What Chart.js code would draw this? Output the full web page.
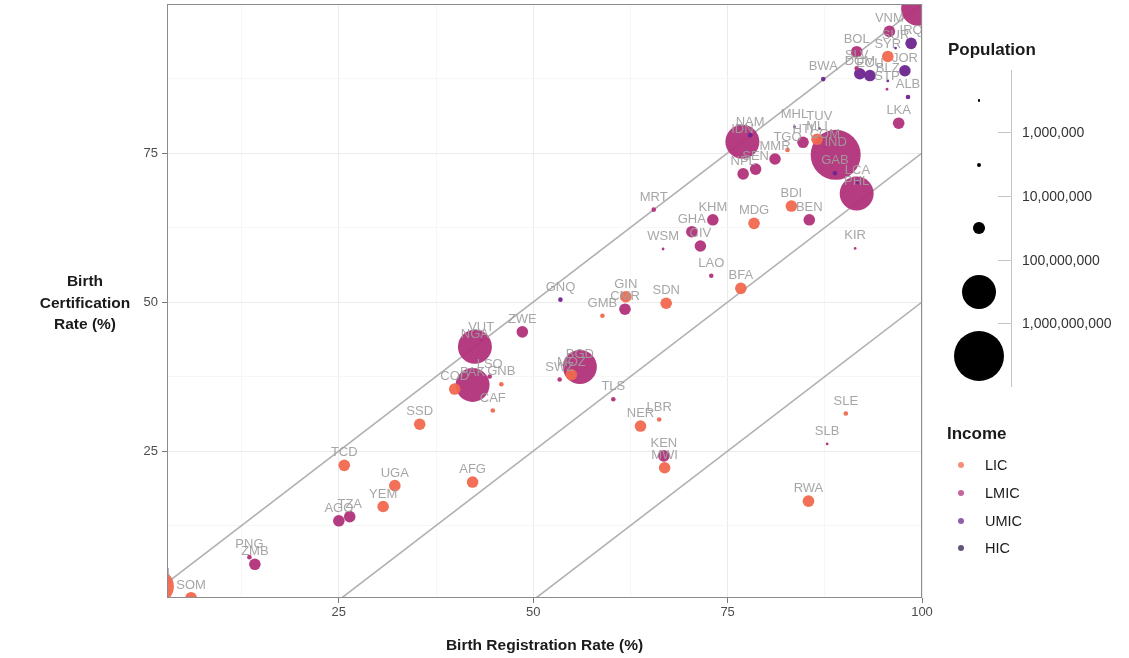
<!DOCTYPE html>
<html>
<head>
<meta charset="utf-8">
<script src="https://cdn.jsdelivr.net/npm/chart.js@4.4.1/dist/chart.umd.min.js"></script>
<style>
  html, body { margin: 0; padding: 0; background: #fff; }
  #wrap { position: relative; width: 1129px; height: 658px; font-family: "Liberation Sans", Arial, sans-serif; }
  #chart { position: absolute; left: 0; top: 0; }
  .axis-title { position: absolute; font-weight: bold; color: #1a1a1a; font-size: 15.5px; }
  .leg-title { position: absolute; font-weight: bold; color: #1a1a1a; font-size: 17px; line-height: 20px; }
  .leg-label { position: absolute; color: #333; font-size: 14px; line-height: 18px; }
  .dot { position: absolute; border-radius: 50%; }
</style>
</head>
<body>
<div id="wrap">
  <canvas id="chart" width="1129" height="658"></canvas>
  <div class="axis-title" style="left:167px;width:755px;top:636px;text-align:center;line-height:18px;">Birth Registration Rate (%)</div>
  <div class="axis-title" style="left:20px;width:130px;top:270px;text-align:center;line-height:21.5px;">Birth<br>Certification<br>Rate (%)</div>
  <div id="legend"></div>
</div>
<script>
// one row per country: iso code, registration rate, certification rate, income group, population (millions)
const isoCodes = ["IND", "IDN", "PAK", "NGA", "BGD", "ETH", "PHL", "EGY", "VNM", "COD",
  "MMR", "TZA", "KEN", "UGA", "SDN", "IRQ", "AFG", "AGO", "MOZ", "GHA",
  "NPL", "YEM", "MDG", "CIV", "CMR", "NER", "LKA", "BFA", "MLI", "MWI",
  "ZMB", "SYR", "ECU", "KHM", "SEN", "TCD", "SOM", "ZWE", "GIN", "RWA",
  "BEN", "BDI", "SSD", "BOL", "HTI", "DOM", "JOR", "TGO", "PNG", "SLE",
  "LAO", "SLV", "LBR", "CAF", "MRT", "ALB", "NAM", "BWA", "GMB", "LSO",
  "GAB", "GNB", "GNQ", "TLS", "SWZ", "COM", "SLB", "SUR", "BLZ", "VUT",
  "WSM", "STP", "LCA", "KIR", "MHL", "TUV"];
const regRate = [88.9, 76.9, 42.2, 42.5, 56.0, 1.6, 91.6, 99.5, 95.8, 39.9,
  81.1, 26.4, 66.8, 32.2, 67.1, 98.6, 42.2, 25.0, 54.9, 70.4,
  77.0, 30.7, 78.4, 71.5, 61.8, 63.8, 97.0, 76.7, 86.5, 66.9,
  14.2, 95.6, 93.3, 73.1, 78.6, 25.7, 6.0, 48.6, 61.9, 85.4,
  85.5, 83.2, 35.4, 91.6, 84.7, 92.0, 97.8, 82.7, 13.5, 90.2,
  72.9, 91.6, 66.2, 44.8, 65.5, 98.2, 77.9, 87.3, 58.9, 44.4,
  88.8, 45.9, 53.5, 60.3, 53.4, 87.5, 87.8, 96.6, 95.6, 43.3,
  66.7, 95.5, 91.7, 91.4, 83.6, 86.8];
const certRate = [74.7, 76.9, 36.1, 42.5, 39.1, 2.3, 68.2, 99.2, 95.4, 35.4,
  74.0, 14.0, 24.2, 19.2, 49.8, 93.4, 19.8, 13.3, 37.8, 61.8,
  71.5, 15.7, 63.2, 59.4, 48.8, 29.2, 80.0, 52.3, 77.3, 22.2,
  6.0, 91.2, 88.0, 63.8, 72.3, 22.6, 0.4, 45.0, 50.9, 16.6,
  63.8, 66.1, 29.5, 92.0, 76.8, 88.3, 88.8, 75.5, 7.2, 31.3,
  54.4, 89.2, 30.3, 31.8, 65.5, 84.4, 78.0, 87.4, 47.7, 37.5,
  71.6, 36.2, 50.4, 33.7, 37.0, 76.0, 26.2, 92.6, 87.1, 43.6,
  58.9, 85.7, 70.0, 59.0, 79.4, 79.1];
const incomeGroup = ["LMIC", "LMIC", "LMIC", "LMIC", "LMIC", "LIC", "LMIC", "LMIC", "LMIC", "LIC",
  "LMIC", "LMIC", "LMIC", "LIC", "LIC", "UMIC", "LIC", "LMIC", "LIC", "LMIC",
  "LMIC", "LIC", "LIC", "LMIC", "LMIC", "LIC", "LMIC", "LIC", "LIC", "LIC",
  "LMIC", "LIC", "UMIC", "LMIC", "LMIC", "LIC", "LIC", "LMIC", "LIC", "LIC",
  "LMIC", "LIC", "LIC", "LMIC", "LMIC", "UMIC", "UMIC", "LIC", "LMIC", "LIC",
  "LMIC", "LMIC", "LIC", "LIC", "LMIC", "UMIC", "UMIC", "UMIC", "LIC", "LMIC",
  "UMIC", "LIC", "UMIC", "LMIC", "LMIC", "LMIC", "LMIC", "UMIC", "UMIC", "LMIC",
  "LMIC", "LMIC", "UMIC", "LMIC", "UMIC", "UMIC"];
const populationM = [1353, 268, 212, 196, 161, 109, 107, 101, 95, 84,
  54, 56, 51, 43, 42, 38, 37, 31, 30, 29,
  28, 28, 26, 25, 25, 22, 21, 20, 19, 18,
  17, 17, 17, 16, 16, 15, 15, 14, 12, 12,
  11, 11, 11, 11, 11, 11, 10, 8, 8.6, 7.6,
  7, 6.4, 4.8, 4.7, 4.4, 2.9, 2.5, 2.3, 2.2, 2.1,
  2.1, 1.9, 1.3, 1.3, 1.1, 0.8, 0.65, 0.58, 0.38, 0.29,
  0.2, 0.21, 0.18, 0.12, 0.06, 0.01];

const incomeLevels = ["LIC", "LMIC", "UMIC", "HIC"];
const popBreakLabels = ["1,000,000", "10,000,000", "100,000,000", "1,000,000,000"];
const popBreaksM = [1, 10, 100, 1000];
const diagonalOffsets = [0, 25, 50];
const xTickValues = [12.5, 25, 37.5, 50, 62.5, 75, 87.5, 100];
const yTickValues = [12.5, 25, 37.5, 50, 62.5, 75, 87.5];

// styling
const incomeColors = ["rgba(241,104,79,0.95)", "rgba(178,49,123,0.95)", "rgba(110,37,144,0.95)", "rgba(46,26,76,0.95)"];
const legendDotColors = ["rgba(241,104,79,0.75)", "rgba(178,49,123,0.75)", "rgba(110,37,144,0.75)", "rgba(46,26,76,0.75)"];
const binRadius = [1.4, 2.3, 5.8, 17, 25];
const labelNudge = 2.1;

function radiusFor(pop) {
  let bin = 0;
  while (bin < popBreaksM.length && pop >= popBreaksM[bin]) bin++;
  return binRadius[bin];
}

// draw big bubbles first so the small ones stay visible
const order = isoCodes.map((_, i) => i).sort((a, b) => populationM[b] - populationM[a]);
const points = order.map((i) => ({ x: regRate[i], y: certRate[i], idx: i }));

const labelPlugin = {
  id: "isoLabels",
  afterDatasetsDraw(chart) {
    const { ctx, chartArea, scales } = chart;
    ctx.save();
    ctx.beginPath();
    ctx.rect(chartArea.left, chartArea.top, chartArea.right - chartArea.left, chartArea.bottom - chartArea.top);
    ctx.clip();
    ctx.font = '13px "Liberation Sans", Arial, sans-serif';
    ctx.fillStyle = "rgba(158,158,158,0.92)";
    ctx.textAlign = "center";
    ctx.textBaseline = "middle";
    isoCodes.forEach((code, i) => {
      const px = scales.x.getPixelForValue(regRate[i]);
      const py = scales.y.getPixelForValue(certRate[i] + labelNudge);
      ctx.fillText(code, px, py);
    });
    ctx.restore();
  }
};

const borderPlugin = {
  id: "panelBorder",
  afterDraw(chart) {
    const { ctx, chartArea } = chart;
    ctx.save();
    ctx.strokeStyle = "#8c8c8c";
    ctx.lineWidth = 1;
    ctx.strokeRect(chartArea.left + 0.5, chartArea.top + 0.5, chartArea.right - chartArea.left - 1, chartArea.bottom - chartArea.top - 1);
    ctx.restore();
  }
};

const gridFor = {
  color: (c) => (c.tick && c.tick.value % 25 === 0 ? "#EBEBEB" : "#F6F6F6"),
  tickColor: (c) => (c.tick && c.tick.value % 25 === 0 ? "#7a7a7a" : "rgba(0,0,0,0)"),
  tickLength: 5,
  lineWidth: 1
};

const lineSets = diagonalOffsets.map((off) => ({
  type: "line",
  data: [{ x: off, y: 0 }, { x: 100, y: 100 - off }],
  borderColor: "#b0b0b0",
  borderWidth: 1.6,
  pointRadius: 0,
  clip: 0,
  order: 2
}));

new Chart(document.getElementById("chart"), {
  type: "scatter",
  data: {
    datasets: [
      {
        data: points,
        pointRadius: (c) => radiusFor(populationM[c.raw.idx]),
        backgroundColor: (c) => incomeColors[incomeLevels.indexOf(incomeGroup[c.raw.idx])],
        borderWidth: 0,
        clip: 0,
        order: 1
      },
      ...lineSets
    ]
  },
  options: {
    responsive: false,
    animation: false,
    events: [],
    layout: { autoPadding: false, padding: { left: 0, top: 4, right: 207, bottom: 0 } },
    plugins: { legend: { display: false }, tooltip: { enabled: false } },
    scales: {
      x: {
        type: "linear",
        min: 2.9,
        max: 100,
        afterBuildTicks: (scale) => { scale.ticks = xTickValues.map((v) => ({ value: v })); },
        afterFit: (scale) => {
          scale.height = 60;
          scale.paddingLeft = 0;
          scale.paddingRight = 0;
        },
        grid: gridFor,
        border: { display: false },
        ticks: {
          autoSkip: false,
          maxRotation: 0,
          padding: 2,
          color: "#4D4D4D",
          font: { family: "Liberation Sans", size: 13 },
          callback: (v) => (v % 25 === 0 ? v : "")
        }
      },
      y: {
        type: "linear",
        min: 0.35,
        max: 100,
        afterBuildTicks: (scale) => { scale.ticks = yTickValues.map((v) => ({ value: v })); },
        afterFit: (scale) => {
          scale.width = 167;
          scale.paddingTop = 0;
          scale.paddingBottom = 0;
        },
        grid: gridFor,
        border: { display: false },
        ticks: {
          autoSkip: false,
          padding: 4,
          color: "#4D4D4D",
          font: { family: "Liberation Sans", size: 13 },
          callback: (v) => (v % 25 === 0 ? v : "")
        }
      }
    }
  },
  plugins: [labelPlugin, borderPlugin]
});

// legends (html)
const legend = document.getElementById("legend");
function add(cls, style, text) {
  const d = document.createElement("div");
  d.className = cls;
  d.style.cssText = style;
  if (text) d.textContent = text;
  legend.appendChild(d);
}
add("leg-title", "left:948px;top:40px;", "Population");
add("", "position:absolute;left:1011px;top:70px;width:1px;height:317px;background:#c4c4c4;");
const popTickY = [132, 196, 260, 323];
popBreakLabels.forEach((lab, i) => {
  add("", `position:absolute;left:998px;top:${popTickY[i]}px;width:13px;height:1px;background:#c4c4c4;`);
  add("leg-label", `left:1022px;top:${popTickY[i] - 9}px;`, lab);
});
const popDotY = [100.7, 165, 228, 292, 356];
binRadius.forEach((r, i) => {
  add("dot", `left:${979 - r}px;top:${popDotY[i] - r}px;width:${2 * r}px;height:${2 * r}px;background:#000;`);
});
add("leg-title", "left:947px;top:424px;", "Income");
const incDotY = [465, 493, 521, 548];
incomeLevels.forEach((lab, i) => {
  add("dot", `left:958px;top:${incDotY[i] - 3}px;width:6px;height:6px;background:${legendDotColors[i]};`);
  add("leg-label", `left:985px;top:${incDotY[i] - 9}px;font-size:14.5px;color:#1a1a1a;`, lab);
});
</script>
</body>
</html>
